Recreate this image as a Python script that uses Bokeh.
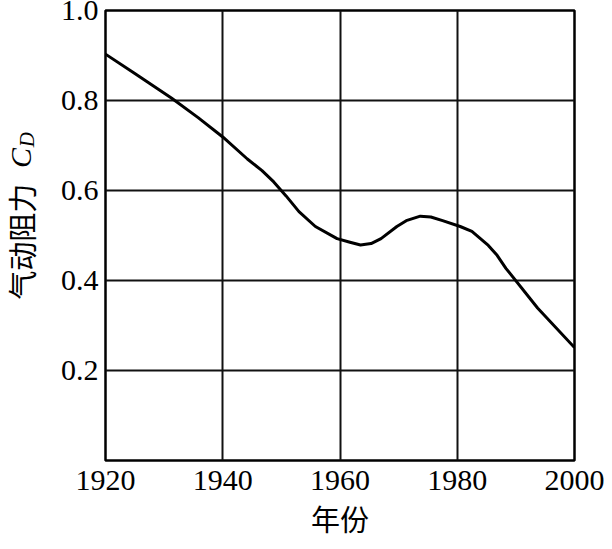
from bokeh.plotting import figure
from bokeh.layouts import row
from bokeh.models import Range1d, FixedTicker, Label, PrintfTickFormatter
from bokeh.embed import file_html
from bokeh.resources import INLINE

# ---- data ----
years = [1920, 1925, 1931.3, 1935.8, 1940, 1944.2, 1946.7, 1948.7, 1950.8, 1953.0,
         1955.8, 1959.5, 1961.7, 1963.5, 1965.3, 1967.0, 1969.7, 1971.3, 1973.7,
         1975.5, 1977.5, 1980.5, 1982.5, 1985.3, 1986.8, 1988.3, 1993.7, 2000]
cd = [0.903, 0.860, 0.805, 0.762, 0.719, 0.670, 0.644, 0.619, 0.588, 0.553,
      0.520, 0.493, 0.485, 0.479, 0.482, 0.493, 0.520, 0.533, 0.543,
      0.541, 0.533, 0.520, 0.509, 0.478, 0.456, 0.427, 0.339, 0.251]

x_ticks = [1920, 1940, 1960, 1980, 2000]
y_ticks = [0.2, 0.4, 0.6, 0.8, 1.0]

x_title = "年份"
y_title_main = "气动阻力"
y_title_sym = "C"
y_title_sub = "D"

SERIF = "Liberation Serif"
CJK = "Noto Sans CJK SC"
H = 541
LEFT_W = 42

y_range = Range1d(0, 1)

# ---- main chart ----
p = figure(width=604 - LEFT_W, height=H, output_backend="svg", toolbar_location=None,
           x_range=Range1d(1920, 2000), y_range=y_range,
           min_border_left=105 - LEFT_W, min_border_right=30, min_border_top=10,
           min_border_bottom=77)
p.background_fill_color = "white"
p.border_fill_color = "white"
p.outline_line_color = "black"
p.outline_line_width = 2.5

p.xaxis.ticker = FixedTicker(ticks=x_ticks)
p.yaxis.ticker = FixedTicker(ticks=y_ticks)
p.yaxis.formatter = PrintfTickFormatter(format="%.1f")
for ax in (p.xaxis, p.yaxis):
    ax.axis_line_color = None
    ax.major_tick_line_color = None
    ax.minor_tick_line_color = None
    ax.major_tick_out = 0
    ax.major_tick_in = 0
    ax.major_label_text_font = SERIF
    ax.major_label_text_font_size = "30px"
    ax.major_label_text_color = "black"
p.xaxis.major_label_standoff = 10
p.yaxis.major_label_standoff = 7

p.xaxis.axis_label = x_title
p.xaxis.axis_label_text_font = CJK
p.xaxis.axis_label_text_font_size = "29px"
p.xaxis.axis_label_text_font_style = "normal"
p.xaxis.axis_label_text_color = "black"
p.xaxis.axis_label_standoff = 4

p.xgrid.grid_line_color = "#111111"
p.ygrid.grid_line_color = "#111111"
p.xgrid.grid_line_width = 2
p.ygrid.grid_line_width = 2

p.line(years, cd, line_color="black", line_width=3, line_join="round")

# ---- narrow strip on the left carrying the rotated y title (real text) ----
# its frame is aligned with the main frame, so it shares the C_D scale
t = figure(width=LEFT_W, height=H, output_backend="svg", toolbar_location=None,
           title=None, x_range=Range1d(0, LEFT_W), y_range=y_range,
           x_axis_type=None, y_axis_type=None, min_border_left=0,
           min_border_right=0, min_border_top=10, min_border_bottom=77)
t.outline_line_color = None
t.background_fill_color = "white"
t.border_fill_color = "white"
t.add_layout(Label(x=20.5, y=0.357, text=y_title_main, text_font=CJK,
                   text_font_size="29px", text_align="left",
                   text_baseline="alphabetic", angle=90, angle_units="deg",
                   text_color="black"))
t.add_layout(Label(x=20, y=0.650, text=y_title_sym, text_font=SERIF,
                   text_font_style="italic", text_font_size="30px",
                   text_align="left", text_baseline="alphabetic", angle=90,
                   angle_units="deg", text_color="black"))
t.add_layout(Label(x=26, y=0.696, text=y_title_sub, text_font=SERIF,
                   text_font_style="italic", text_font_size="21px",
                   text_align="left", text_baseline="alphabetic", angle=90,
                   angle_units="deg", text_color="black"))

layout = row(t, p, spacing=0)
open("out.html", "w").write(file_html(layout, INLINE))
